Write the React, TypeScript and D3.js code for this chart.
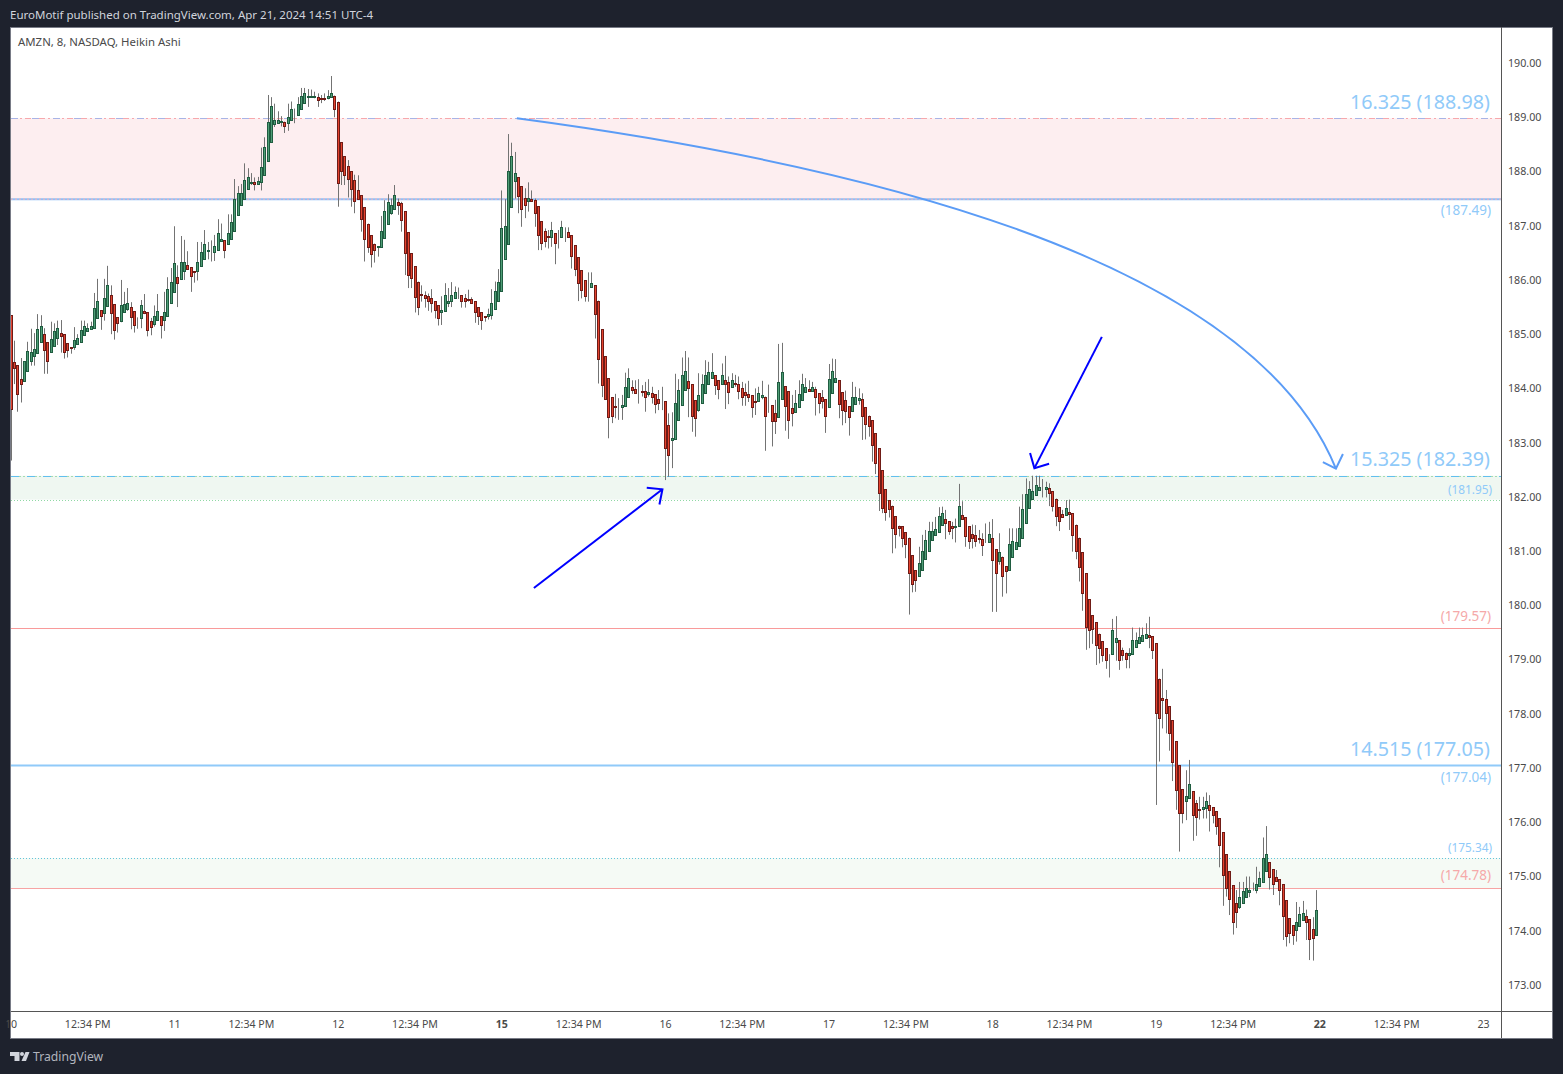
import { useEffect } from 'react';
import * as d3 from 'd3';

// 8 minute Heikin Ashi bars. Ten per row.
const opens = [
  185.35,184.48,184.43,184.17,184.13,184.32,184.50,184.59,184.65,184.86,
  185.00,184.85,184.68,184.79,184.93,185.02,185.00,184.83,184.76,184.76,
  184.81,184.86,184.98,185.05,185.09,185.11,185.29,185.44,185.39,185.52,
  185.72,185.55,185.31,185.24,185.40,185.46,185.51,185.42,185.31,185.29,
  185.42,185.40,185.24,185.18,185.26,185.33,185.26,185.33,185.57,185.77,
  186.05,186.01,186.17,186.27,186.23,186.16,186.16,186.25,186.38,186.54,
  186.54,186.52,186.56,186.71,186.73,186.66,186.75,186.90,187.19,187.39,
  187.50,187.67,187.79,187.80,187.77,187.80,187.93,188.20,188.55,188.87,
  188.90,188.92,188.92,188.89,188.94,189.07,189.05,189.16,189.27,189.38,
  189.37,189.38,189.38,189.35,189.35,189.35,189.38,189.40,189.29,188.54,
  188.28,188.11,188.00,187.84,187.65,187.56,187.34,187.04,186.82,186.66,
  186.61,186.60,186.77,187.03,187.23,187.30,187.43,187.41,187.27,186.88,
  186.49,186.25,185.97,185.75,185.73,185.70,185.66,185.61,185.53,185.40,
  185.42,185.57,185.61,185.66,185.71,185.72,185.66,185.64,185.64,185.61,
  185.50,185.40,185.33,185.33,185.35,185.46,185.62,185.79,186.38,186.67,
  187.34,187.82,187.89,187.73,187.52,187.45,187.49,187.47,187.36,187.08,
  186.90,186.805,186.79,186.86,186.79,186.79,186.88,186.88,186.82,186.64,
  186.42,186.18,185.99,185.865,185.87,185.90,185.62,185.09,184.59,184.19,
  183.84,183.67,183.65,183.65,183.67,183.84,184.02,183.98,183.95,183.945,
  183.95,183.89,183.91,183.89,183.80,183.755,183.76,183.32,183.04,183.06,
  183.41,183.69,183.97,184.13,184.08,183.78,183.61,183.74,183.91,184.09,
  184.20,184.24,184.15,184.08,184.15,184.11,184.02,184.095,184.08,184.00,
  183.93,183.89,183.87,183.76,183.76,183.84,183.85,183.69,183.69,183.54,
  183.47,183.80,184.04,183.95,183.63,183.56,183.65,183.78,183.93,183.98,
  183.96,183.98,183.91,183.84,183.80,183.65,183.91,184.11,184.15,183.93,
  183.78,183.67,183.58,183.71,183.78,183.80,183.65,183.50,183.41,183.17,
  182.90,182.49,182.14,181.94,181.84,181.64,181.47,181.46,181.35,181.25,
  180.92,180.65,180.55,180.66,180.85,181.01,181.20,181.29,181.35,181.49,
  181.60,181.55,181.47,181.44,181.46,181.66,181.62,181.46,181.31,181.29,
  181.235,181.22,181.22,181.16,181.24,181.03,180.81,180.90,180.72,180.66,
  180.89,181.03,181.09,181.25,181.51,181.79,181.96,182.03,182.12,182.145,
  182.14,182.16,182.10,181.97,181.81,181.68,181.66,181.73,181.70,181.49,
  181.25,180.98,180.59,180.11,179.82,179.69,179.48,179.34,179.21,179.10,
  179.10,179.32,179.36,179.17,179.13,179.08,179.10,179.23,179.30,179.35,
  179.39,179.45,179.43,179.30,178.65,178.29,178.27,178.14,177.88,177.49,
  177.05,176.61,176.40,176.44,176.57,176.35,176.24,176.24,176.26,176.31,
  176.28,176.20,176.07,175.82,175.41,175.10,174.84,174.51,174.43,174.52,
  174.63,174.71,174.745,174.75,174.82,174.89,175.11,175.26,175.13,174.99,
  174.95,174.86,174.56,174.23,174.10,174.01,174.08,174.19,174.27,174.21,
  174.03,173.93,
];

const closes = [
  183.62,184.37,183.89,184.09,184.50,184.69,184.67,184.72,185.09,185.15,
  184.70,184.51,184.91,185.05,185.11,184.96,184.68,184.70,184.75,184.89,
  184.93,185.07,185.15,185.11,185.15,185.48,185.61,185.33,185.66,185.90,
  185.39,185.07,185.20,185.53,185.55,185.57,185.31,185.16,185.32,185.53,
  185.39,185.07,185.13,185.33,185.42,185.16,185.40,185.83,185.96,186.32,
  185.95,186.34,186.34,186.21,186.08,186.15,186.34,186.51,186.67,186.55,
  186.53,186.62,186.86,186.75,186.56,186.86,187.06,187.49,187.60,187.61,
  187.84,187.89,187.80,187.76,187.82,188.08,188.46,188.92,189.20,188.94,
  188.94,188.925,188.83,189.00,189.16,189.08,189.25,189.40,189.44,189.385,
  189.40,189.39,189.31,189.345,189.345,189.40,189.44,189.16,187.78,188.00,
  187.94,187.87,187.67,187.45,187.49,187.12,186.75,186.60,186.47,186.55,
  186.62,186.91,187.28,187.43,187.38,187.56,187.39,187.10,186.49,186.09,
  186.03,185.68,185.51,185.72,185.66,185.61,185.57,185.44,185.29,185.44,
  185.72,185.62,185.72,185.77,185.705,185.61,185.61,185.635,185.57,185.40,
  185.33,185.26,185.325,185.38,185.57,185.79,185.96,186.95,186.99,188.00,
  188.28,187.97,187.54,187.30,187.39,187.52,187.45,187.23,186.82,186.69,
  186.71,186.80,186.93,186.69,186.795,186.97,186.875,186.79,186.45,186.21,
  185.94,185.81,185.70,185.87,185.94,185.37,184.55,184.07,183.80,183.47,
  183.50,183.665,183.655,183.69,184.02,184.19,183.97,183.91,183.945,183.94,
  183.85,183.93,183.85,183.71,183.73,183.75,182.90,182.78,183.08,183.74,
  183.97,184.24,184.32,184.00,183.49,183.45,183.87,184.08,184.25,184.30,
  184.30,184.06,183.98,184.24,184.08,183.93,184.15,184.09,183.95,183.84,
  183.87,183.85,183.65,183.755,183.91,183.87,183.49,183.685,183.39,183.39,
  184.11,184.30,183.67,183.41,183.54,183.73,183.89,184.08,184.02,183.95,
  184.02,183.84,183.74,183.76,183.49,184.17,184.33,184.19,183.71,183.61,
  183.58,183.47,183.85,183.84,183.82,183.50,183.34,183.31,182.95,182.62,
  182.08,181.79,181.72,181.77,181.42,181.31,181.42,181.25,181.14,180.59,
  180.39,180.46,180.78,181.01,181.20,181.38,181.38,181.40,181.64,181.70,
  181.51,181.38,181.42,181.47,181.84,181.59,181.27,181.18,181.25,181.18,
  181.23,181.11,181.215,181.31,180.83,180.59,180.98,180.54,180.63,181.13,
  181.18,181.16,181.42,181.77,182.05,182.14,182.10,182.21,182.19,182.14,
  182.18,182.07,181.83,181.64,181.55,181.62,181.79,181.68,181.29,181.01,
  180.70,180.22,179.61,179.54,179.56,179.26,179.21,179.08,179.00,179.095,
  179.54,179.39,178.99,179.08,179.02,179.12,179.37,179.37,179.41,179.45,
  179.48,179.41,179.17,178.01,177.92,178.25,178.01,177.64,177.11,176.59,
  176.17,176.18,176.48,176.70,176.13,176.09,176.235,176.28,176.39,176.22,
  176.13,175.94,175.58,175.02,174.78,174.58,174.17,174.34,174.62,174.73,
  174.78,174.76,174.75,174.87,174.97,175.35,175.41,175.00,174.86,174.91,
  174.76,174.27,173.90,173.95,173.92,174.17,174.30,174.32,174.16,173.84,
  173.86,174.39,
];

const highs = [
  185.35,184.88,184.43,184.56,184.50,184.86,185.10,185.02,185.37,185.35,
  185.11,184.85,185.23,185.20,185.25,185.26,185.00,184.83,184.76,185.13,
  185.00,185.25,185.25,185.20,185.23,185.76,186.02,185.44,186.02,186.26,
  185.90,185.55,185.31,186.00,185.78,185.85,185.59,185.42,185.31,185.63,
  185.74,185.40,185.30,185.53,185.74,185.33,185.78,186.05,186.22,186.99,
  186.27,186.81,186.74,186.53,186.23,186.16,186.70,186.70,186.92,186.70,
  186.73,186.83,187.12,187.04,186.73,187.21,187.21,187.86,187.73,187.77,
  188.15,188.06,187.97,187.89,187.90,188.44,188.63,189.41,189.37,189.25,
  189.11,189.02,188.92,189.25,189.29,189.16,189.37,189.54,189.54,189.52,
  189.51,189.47,189.44,189.41,189.44,189.50,189.76,189.40,189.29,188.54,
  188.28,188.21,188.00,187.94,187.93,187.56,187.34,187.04,186.82,186.67,
  186.62,187.18,187.47,187.58,187.50,187.75,187.50,187.44,187.27,186.88,
  186.49,186.25,185.97,185.90,185.79,185.75,185.83,185.61,185.53,185.70,
  185.94,185.85,185.96,185.88,185.86,185.72,185.74,185.82,185.68,185.61,
  185.50,185.40,185.33,185.47,185.83,185.97,186.20,187.65,187.49,188.69,
  188.53,188.36,187.89,187.73,187.69,187.80,187.65,187.50,187.36,187.08,
  186.95,186.92,187.07,186.86,186.92,187.09,186.97,186.97,186.82,186.64,
  186.42,186.18,185.99,186.14,186.14,185.90,185.62,185.09,184.59,184.19,
  183.84,183.90,183.82,183.88,184.29,184.37,184.15,184.15,184.17,184.06,
  184.12,184.17,184.03,183.89,183.97,184.03,183.76,183.54,183.56,184.27,
  184.17,184.57,184.69,184.57,184.08,183.78,184.28,184.26,184.52,184.49,
  184.65,184.24,184.15,184.46,184.60,184.22,184.28,184.25,184.22,184.12,
  184.09,184.14,183.87,184.00,184.03,184.14,183.85,184.07,183.69,183.79,
  184.82,184.84,184.04,183.95,183.88,183.97,184.15,184.27,184.19,184.15,
  184.12,184.03,183.91,183.97,183.80,184.45,184.55,184.54,184.15,183.93,
  183.96,183.67,184.12,184.03,184.00,183.91,183.65,183.50,183.41,183.17,
  182.90,182.49,182.14,181.94,181.84,181.64,181.47,181.46,181.35,181.25,
  180.92,180.65,181.08,181.30,181.39,181.54,181.54,181.63,181.81,181.82,
  181.76,181.55,181.54,181.60,182.24,181.92,181.62,181.46,181.49,181.48,
  181.39,181.33,181.51,181.54,181.59,181.03,181.33,180.90,180.72,181.42,
  181.42,181.42,181.82,182.05,182.34,182.29,182.39,182.39,182.39,182.33,
  182.28,182.25,182.10,181.97,181.81,181.76,181.94,181.95,181.70,181.49,
  181.25,180.98,180.59,180.11,179.82,179.69,179.48,179.34,179.21,179.10,
  179.75,179.80,179.36,179.22,179.13,179.21,179.59,179.50,179.59,179.59,
  179.67,179.79,179.43,179.30,178.65,178.83,178.44,178.14,177.88,177.49,
  177.05,176.61,176.96,177.15,176.57,176.41,176.47,176.47,176.55,176.50,
  176.28,176.20,176.07,175.82,175.41,175.10,174.84,174.75,174.90,174.90,
  175.00,175.00,174.89,175.18,175.09,175.72,175.93,175.26,175.13,175.12,
  174.95,174.86,174.56,174.23,174.10,174.53,174.44,174.55,174.39,174.21,
  174.25,174.75,
];

const lows = [
  182.67,184.08,183.57,183.74,184.13,184.32,184.42,184.42,184.65,184.86,
  184.27,184.27,184.68,184.79,184.80,184.66,184.55,184.57,184.64,184.71,
  184.81,184.86,184.98,185.05,185.09,185.11,185.29,185.08,185.25,185.52,
  185.00,184.90,185.03,185.22,185.40,185.43,185.09,185.03,185.10,185.11,
  185.37,184.96,184.98,185.14,185.26,184.92,185.06,185.33,185.57,185.77,
  185.50,186.01,186.00,186.21,185.78,185.95,185.99,186.25,186.38,186.38,
  186.34,186.35,186.56,186.71,186.40,186.66,186.75,186.90,187.19,187.39,
  187.50,187.67,187.75,187.65,187.77,187.65,187.93,188.20,188.55,188.82,
  188.90,188.83,188.71,188.75,188.94,188.89,189.05,189.16,189.27,189.19,
  189.37,189.35,189.19,189.26,189.30,189.33,189.38,189.00,187.35,187.75,
  187.75,187.52,187.35,187.23,187.49,186.89,186.34,186.50,186.23,186.32,
  186.43,186.60,186.77,187.03,187.20,187.30,187.20,186.89,186.09,185.85,
  185.85,185.40,185.35,185.60,185.49,185.43,185.40,185.29,185.16,185.17,
  185.42,185.50,185.50,185.66,185.65,185.49,185.49,185.60,185.57,185.21,
  185.17,185.08,185.23,185.27,185.27,185.46,185.62,185.79,186.38,186.67,
  187.34,187.50,187.23,186.98,187.14,187.26,187.45,186.98,186.55,186.55,
  186.60,186.58,186.61,186.29,186.58,186.79,186.70,186.79,186.21,186.07,
  185.61,185.66,185.60,185.60,185.87,184.92,184.09,183.84,183.80,183.08,
  183.36,183.45,183.42,183.42,183.67,183.84,183.90,183.91,183.72,183.85,
  183.57,183.85,183.72,183.54,183.60,183.60,182.31,182.37,182.53,183.06,
  183.41,183.69,183.97,183.47,183.20,183.11,183.57,183.74,183.91,184.09,
  184.20,183.88,183.80,184.08,183.62,183.71,184.02,184.03,183.80,183.68,
  183.68,183.75,183.46,183.51,183.76,183.80,182.85,183.55,182.93,183.16,
  183.47,183.80,183.22,183.07,183.30,183.56,183.65,183.78,183.93,183.95,
  183.96,183.50,183.54,183.63,183.18,183.65,183.91,184.11,183.45,183.32,
  183.36,183.13,183.58,183.71,183.70,183.05,183.06,183.11,182.65,182.42,
  181.74,181.70,181.56,181.62,180.96,181.05,181.27,181.07,180.87,179.83,
  180.24,180.25,180.55,180.66,180.85,181.01,181.20,181.29,181.35,181.49,
  181.22,181.30,181.22,181.16,181.46,181.59,181.08,181.04,181.05,181.08,
  181.14,180.91,181.15,181.16,179.88,179.88,180.75,180.16,180.22,180.66,
  180.89,181.03,181.09,181.25,181.51,181.79,181.96,182.03,182.12,181.99,
  181.99,181.83,181.73,181.46,181.37,181.62,181.66,181.39,180.99,180.85,
  180.44,179.90,179.18,179.21,179.29,178.90,178.93,178.96,178.83,178.67,
  179.10,178.98,178.81,178.98,178.84,178.84,179.10,179.23,179.30,179.35,
  179.39,179.21,179.01,176.32,177.12,177.73,177.64,177.32,176.76,176.23,
  175.46,175.98,176.04,176.44,175.66,175.75,176.05,176.07,176.07,175.83,
  175.98,175.77,175.17,174.46,174.63,174.29,173.93,174.05,174.40,174.52,
  174.63,174.62,174.74,174.69,174.82,174.89,175.11,174.76,174.66,174.91,
  174.47,173.83,173.71,173.77,173.74,173.80,174.08,174.19,173.83,173.46,
  173.45,173.93,
];

const priceTicks = [173, 174, 175, 176, 177, 178, 179, 180, 181, 182, 183, 184, 185, 186, 187, 188, 189, 190];
// bar index -> label; each session is 49 bars
const timeTickBars = [0, 23, 49, 72, 98, 121, 147, 170, 196, 219, 245, 268, 294, 317, 343, 366, 392, 415, 441];
const timeTickLabels = ['10', '12:34 PM', '11', '12:34 PM', '12', '12:34 PM', '15', '12:34 PM', '16', '12:34 PM', '17', '12:34 PM', '18', '12:34 PM', '19', '12:34 PM', '22', '12:34 PM', '23'];
const boldTimeLabels = ['15', '22'];

const FONT = '"Noto Sans", sans-serif';
const BG = '#1e222d';

export default function App() {
  useEffect(() => {
    document.body.style.margin = '0';
    document.body.style.background = BG;
  }, []);

  const left = 11;
  const right = 1501;
  const top = 27;
  const axisTop = 1011;
  const bottom = 1038;

  const x = d3.scaleLinear().domain([0, 441]).range([11, 1483.5]);
  const y = d3.scaleLinear().domain([173, 190]).range([985, 63]);
  const cy = (p: number) => Math.round(y(p)) + 0.5;

  // annotations are anchored to bar index / price like the originals
  const curve = d3.path();
  curve.moveTo(x(151.5), y(188.98));
  curve.quadraticCurveTo(x(365.7), y(187.22), x(396.8), y(182.52));
  const polyline = d3.line<[number, number]>().x(d => x(d[0])).y(d => y(d[1]));

  const bars = opens.map((o, i) => ({ o, c: closes[i], h: highs[i], l: lows[i], i }));

  return (
    <svg width={1563} height={1074} style={{ position: 'absolute', left: 0, top: 0, display: 'block', background: BG }} fontFamily={FONT}>
      <defs>
        <clipPath id="plot"><rect x={left} y={top} width={right - left} height={axisTop - top} /></clipPath>
      </defs>

      <text x={10} y={16} dominantBaseline="middle" fontSize={11.5} fill="#d1d4dc">EuroMotif published on TradingView.com, Apr 21, 2024 14:51 UTC-4</text>

      <rect x={10.5} y={27.5} width={1542} height={1011} fill="#fff" stroke="#787b86" />
      <line x1={right + 0.5} x2={right + 0.5} y1={top} y2={bottom} stroke="#555" />
      <line x1={left} x2={1552} y1={axisTop + 0.5} y2={axisTop + 0.5} stroke="#555" />

      <g clipPath="url(#plot)">
        {/* zones */}
        <rect x={left} width={right - left} y={y(188.98)} height={y(187.49) - y(188.98)} fill="#fdeef0" />
        <rect x={left} width={right - left} y={y(182.39)} height={y(181.95) - y(182.39)} fill="#eff7f1" />
        <rect x={left} width={right - left} y={y(175.34)} height={y(174.78) - y(175.34)} fill="#f5faf5" />

        <line x1={left} x2={right} y1={cy(188.98)} y2={cy(188.98)} stroke="#f7a8ac" strokeDasharray="6 3 2 3" />
        <line x1={left} x2={right} y1={cy(188.98)} y2={cy(188.98)} stroke="#a8b4e6" strokeDasharray="7 14" />
        <line x1={left} x2={right} y1={y(187.49)} y2={y(187.49)} stroke="#90bff5" strokeWidth={2} />
        <line x1={left} x2={right} y1={y(187.49)} y2={y(187.49)} stroke="#f2b3c0" strokeWidth={1} strokeDasharray="2 2" />
        <line x1={left} x2={right} y1={cy(182.39)} y2={cy(182.39)} stroke="#a5dcb0" strokeDasharray="2 2" />
        <line x1={left} x2={right} y1={cy(182.39)} y2={cy(182.39)} stroke="#62bfee" strokeDasharray="8 8" />
        <line x1={left} x2={right} y1={cy(181.95)} y2={cy(181.95)} stroke="#8fd8a4" strokeDasharray="1 2" />
        <line x1={left} x2={right} y1={Math.floor(y(179.57)) + 0.5} y2={Math.floor(y(179.57)) + 0.5} stroke="#f99a9a" />
        <line x1={left} x2={right} y1={cy(177.05)} y2={cy(177.05)} stroke="#90caf9" strokeWidth={2} />
        <line x1={left} x2={right} y1={cy(175.34)} y2={cy(175.34)} stroke="#63c5dc" strokeDasharray="1 2" />
        <line x1={left} x2={right} y1={cy(174.78)} y2={cy(174.78)} stroke="#f7a4a4" />

        {/* wicks under the bodies */}
        {bars.map(b => (
          <line key={`w${b.i}`} x1={Math.floor(x(b.i)) + 0.5} x2={Math.floor(x(b.i)) + 0.5} y1={y(b.h)} y2={y(b.l)} stroke="#737373" />
        ))}
        {bars.map(b => {
          const up = b.c >= b.o;
          const yTop = cy(Math.max(b.o, b.c));
          const yBot = cy(Math.min(b.o, b.c));
          return (
            <rect
              key={`b${b.i}`}
              x={Math.floor(x(b.i)) - 0.5}
              y={yTop}
              width={2}
              height={yBot - yTop}
              fill={up ? '#4f9d76' : '#e4432f'}
              stroke={up ? '#1f5c40' : '#6f1b16'}
            />
          );
        })}

        {/* drawings */}
        <path d={curve.toString()} fill="none" stroke="#5b9cf6" strokeWidth={2} />
        <path d={polyline([[392.9, 182.64], [396.8, 182.52], [398.9, 182.79]]) || ''} fill="none" stroke="#5b9cf6" strokeWidth={2} />
        <path d={polyline([[156.6, 180.32], [195.1, 182.14]]) || ''} fill="none" stroke="#0000ff" strokeWidth={2} />
        <path d={polyline([[190.4, 182.17], [195.1, 182.14], [194.2, 181.86]]) || ''} fill="none" stroke="#0000ff" strokeWidth={2} />
        <path d={polyline([[326.7, 184.95], [306.5, 182.53]]) || ''} fill="none" stroke="#0000ff" strokeWidth={2} />
        <path d={polyline([[305.2, 182.81], [306.5, 182.53], [310.9, 182.61]]) || ''} fill="none" stroke="#0000ff" strokeWidth={2} />

        {/* level labels */}
        <g textAnchor="end" fill="#90caf9">
          <text x={1490} y={y(188.98) - 9} fontSize={19.7}>16.325 (188.98)</text>
          <text x={1490} y={y(182.39) - 10} fontSize={19.7}>15.325 (182.39)</text>
          <text x={1490} y={y(177.05) - 9} fontSize={19.7}>14.515 (177.05)</text>
          <text x={1491} y={y(187.49) + 16} fontSize={13.5}>(187.49)</text>
          <text x={1492} y={y(181.95) - 6} fontSize={11.8}>(181.95)</text>
          <text x={1491} y={y(177.05) + 17} fontSize={13.5}>(177.04)</text>
          <text x={1492} y={y(175.34) - 6} fontSize={11.8}>(175.34)</text>
          <text x={1491} y={y(179.57) - 8} fontSize={13.5} fill="#f5a9a9">(179.57)</text>
          <text x={1491} y={y(174.78) - 8} fontSize={13.5} fill="#f5a9a9">(174.78)</text>
        </g>
      </g>

      <text x={18} y={43} dominantBaseline="middle" fontSize={11.4} fill="#4a4a4a">AMZN, 8, NASDAQ, Heikin Ashi</text>

      {priceTicks.map(p => (
        <text key={p} x={1508} y={y(p) + 1} dominantBaseline="middle" fontSize={10.7} fill="#4a4a4a">{d3.format('.2f')(p)}</text>
      ))}

      {timeTickBars.map((b, i) => {
        const label = timeTickLabels[i];
        return (
          <text
            key={b}
            x={x(b)}
            y={1025}
            dominantBaseline="middle"
            textAnchor="middle"
            fontSize={10.6}
            fontWeight={boldTimeLabels.includes(label) ? 700 : 400}
            fill="#4a4a4a"
            style={{ clipPath: i === 0 ? 'inset(-20px -20px -20px 1.5px)' : undefined }}
          >
            {label}
          </text>
        );
      })}

      {/* logo */}
      <g fill="#d1d4dc">
        <path d="M10 1052H19.5V1061H14.5V1056H10Z" />
        <circle cx={22} cy={1054} r={2} />
        <path d="M25.5 1052H29.5L26 1061H21.5Z" />
      </g>
      <text x={33} y={1057.5} dominantBaseline="middle" fontSize={12.2} fill="#b2b5be">TradingView</text>
    </svg>
  );
}
